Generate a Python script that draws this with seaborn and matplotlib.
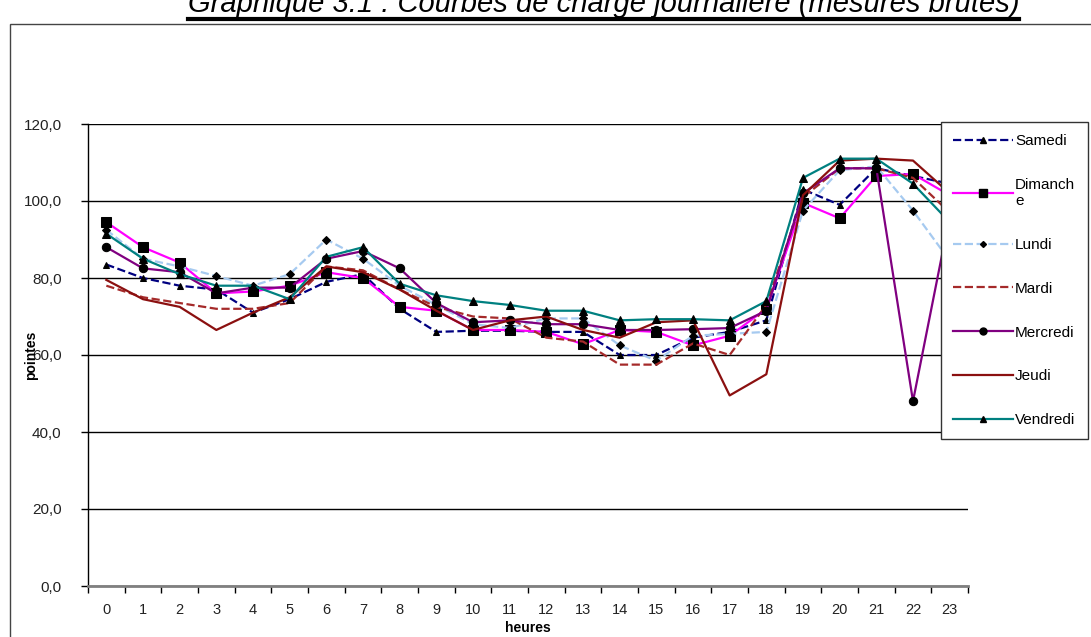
import numpy as np
import pandas as pd
import matplotlib
matplotlib.use("Agg")
import matplotlib.pyplot as plt
import seaborn as sns
from matplotlib.lines import Line2D
from matplotlib.patches import Rectangle
from matplotlib.ticker import FuncFormatter, MultipleLocator

# Données (points, par heure)
heures = list(range(24))
jours = ["Samedi", "Dimanche", "Lundi", "Mardi", "Mercredi", "Jeudi", "Vendredi"]

samedi = [83.5, 80.0, 78.0, 77.0, 71.0, 74.5, 79.0, 81.0, 72.0, 66.0, 66.3, 66.3,
          66.0, 66.0, 60.0, 60.0, 64.5, 66.0, 69.0, 103.0, 99.0, 108.5, 106.5, 104.5]
dimanche = [94.5, 88.0, 84.0, 76.0, 76.5, 78.0, 81.5, 80.0, 72.5, 71.5, 66.5, 66.5,
            66.0, 62.8, 66.5, 66.0, 62.5, 65.0, 72.0, 99.5, 95.5, 106.5, 107.0, 101.5]
lundi = [92.5, 85.0, 83.0, 80.5, 78.0, 81.0, 90.0, 85.0, 78.0, 73.0, 68.0, 67.0,
         69.5, 69.5, 62.5, 58.5, 65.0, 65.5, 66.0, 97.5, 108.0, 109.0, 97.5, 84.5]
mardi = [78.0, 75.0, 73.5, 72.0, 72.0, 73.5, 83.0, 82.0, 77.0, 72.5, 70.0, 69.5,
         64.5, 63.5, 57.5, 57.5, 63.0, 60.0, 73.0, 101.0, 108.5, 108.5, 106.0, 97.0]
mercredi = [88.0, 82.5, 81.5, 76.0, 77.5, 77.5, 85.0, 87.0, 82.5, 73.5, 68.5, 69.0,
            68.0, 68.0, 66.5, 66.5, 66.7, 67.0, 71.5, 102.0, 108.5, 108.5, 48.0, 96.0]
jeudi = [79.5, 74.5, 72.5, 66.5, 71.0, 75.0, 83.0, 81.5, 77.0, 71.5, 66.5, 69.0,
         70.0, 66.5, 64.5, 68.5, 69.0, 49.5, 55.0, 101.5, 110.5, 111.0, 110.5, 102.0]
vendredi = [91.5, 85.0, 81.0, 78.0, 78.0, 74.5, 85.5, 88.0, 78.5, 75.5, 74.0, 73.0,
            71.5, 71.5, 69.0, 69.3, 69.3, 69.0, 74.0, 106.0, 111.0, 111.0, 104.5, 94.5]

valeurs = [samedi, dimanche, lundi, mardi, mercredi, jeudi, vendredi]
etiquettes = ["Samedi", "Dimanch\ne", "Lundi", "Mardi", "Mercredi", "Jeudi", "Vendredi"]

# style Excel de chaque série
couleurs = ["#000080", "#FF00FF", "#A6CAF0", "#A52A2A", "#800080", "#8B1010", "#008080"]
traits = ["--", "-", "--", "--", "-", "-", "-"]
marqueurs = ["^", "s", "D", None, "o", None, "^"]
tailles = [5, 7, 4, 0, 6, 0, 6]

plt.rcParams["font.family"] = ["Liberation Sans", "DejaVu Sans"]

fig = plt.figure(figsize=(10.91, 6.37), dpi=100)
ax = fig.add_axes([88 / 1091, 1 - 586 / 637, 880 / 1091, 462 / 637])

for jour, vals, coul, ls, mk, ms in zip(jours, valeurs, couleurs, traits, marqueurs, tailles):
    df = pd.DataFrame({"heures": heures, "pointes": vals})
    sns.lineplot(data=df, x="heures", y="pointes", ax=ax, color=coul, linestyle=ls,
                 marker=mk, markersize=ms, markerfacecolor="black",
                 markeredgecolor="black", linewidth=1.6, zorder=3)

ax.set_xlim(-0.5, 23.5)
ax.set_ylim(0, 120)
ax.yaxis.set_major_locator(MultipleLocator(20))
ax.yaxis.set_major_formatter(FuncFormatter(lambda v, p: f"{v:.1f}".replace(".", ",")))
ax.set_xticks(heures)
ax.set_xticks(np.arange(-0.5, 24, 1), minor=True)
ax.tick_params(axis="x", which="major", length=0, pad=12, labelsize=10.5)
ax.tick_params(axis="x", which="minor", length=5, width=1, color="black", direction="out")
ax.tick_params(axis="y", length=5, width=1, color="black", direction="out", labelsize=11, pad=14)
for lab in ax.get_xticklabels() + ax.get_yticklabels():
    lab.set_color("#222222")

ax.grid(axis="y", color="black", linewidth=1)
ax.set_axisbelow(True)
for s in ["top", "right"]:
    ax.spines[s].set_visible(False)
ax.spines["left"].set_color("black")
ax.spines["left"].set_linewidth(1)
ax.spines["bottom"].set_color("#808080")
ax.spines["bottom"].set_linewidth(2)

ax.set_xlabel("heures", fontsize=10, fontweight="bold", labelpad=0)
ax.xaxis.set_label_coords(0.5, -0.075)
ax.set_ylabel("pointes", fontsize=10, fontweight="bold")
ax.yaxis.set_label_coords(-0.057, 0.5)

poignees = [Line2D([], [], color=c, linestyle=ls, marker=mk, markersize=max(ms - 1, 0),
                   markerfacecolor="black", markeredgecolor="black", linewidth=1.6)
            for c, ls, mk, ms in zip(couleurs, traits, marqueurs, tailles)]
leg = ax.legend(poignees, etiquettes, loc="upper left",
                bbox_to_anchor=(941 / 1091, 1 - 122 / 637), bbox_transform=fig.transFigure,
                frameon=True, fancybox=False, framealpha=1, edgecolor="#333333",
                fontsize=11, handlelength=3.9, handletextpad=0.15, labelspacing=1.95,
                borderpad=0.8, borderaxespad=0)
leg.get_frame().set_linewidth(1)
leg.set_zorder(5)

# cadre extérieur
fig.add_artist(Rectangle((10 / 1091, -0.1), 1.2, 1.1 - 24 / 637, transform=fig.transFigure,
                         fill=False, edgecolor="#444444", linewidth=1))

titre = fig.text(0.553, 1 - 12 / 637, "Graphique 3.1 : Courbes de charge journalière (mesures brutes)",
                 ha="center", va="baseline", fontsize=21, style="italic")
fig.canvas.draw()
tb = titre.get_window_extent()
fig.add_artist(Line2D([tb.x0 / 1091, tb.x1 / 1091], [1 - 19 / 637, 1 - 19 / 637],
                      transform=fig.transFigure, color="black", linewidth=3))

fig.savefig("out.png", dpi=100)
